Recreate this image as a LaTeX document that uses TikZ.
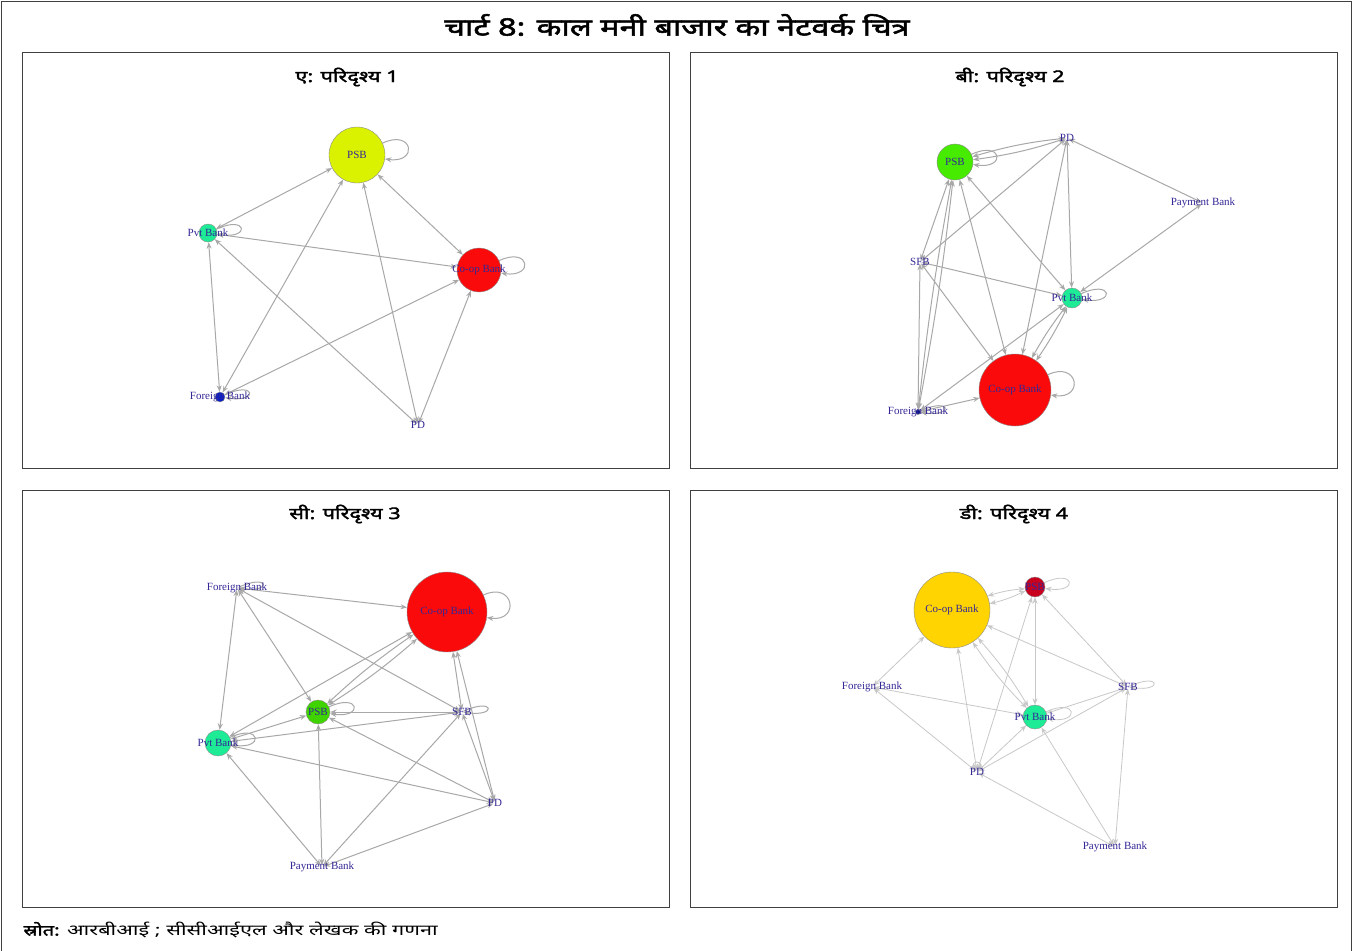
\documentclass[tikz,border=0pt]{standalone}
\usepackage{fontspec}
\setmainfont{Liberation Serif}
\newfontfamily\hindi[Script=Devanagari, FakeStretch=1.45]{Noto Sans}
\newfontfamily\hindibold[Script=Devanagari, FakeStretch=1.35, FakeBold=2.2]{Noto Sans}
\usetikzlibrary{arrows.meta}

\definecolor{labelblue}{RGB}{52,40,150}
\definecolor{edgegray}{RGB}{168,168,168}
\definecolor{paleedge}{RGB}{200,200,200}
\definecolor{limenode}{RGB}{218,242,0}
\definecolor{greennode}{RGB}{70,235,0}
\definecolor{mintnode}{RGB}{30,235,150}
\definecolor{rednode}{RGB}{250,10,10}
\definecolor{bluenode}{RGB}{10,30,200}
\definecolor{goldnode}{RGB}{255,212,0}
\definecolor{darkred}{RGB}{200,0,30}

\pgfdeclarelayer{back}
\pgfdeclarelayer{edges}
\pgfsetlayers{back,edges,main}

\tikzset{
  panel/.style={draw=black!75, line width=0.9pt},
  vtx/.style={circle, draw=black!45, line width=0.4pt, inner sep=0pt},
  dot/.style={circle, inner sep=0pt, minimum size=3pt},
  every label/.style={text=labelblue, inner sep=0pt,
    font=\fontsize{11}{11}\selectfont},
  paneltitle/.style={font=\hindibold\fontsize{16}{18}\selectfont},
  links/.style={every edge/.style={draw=edgegray, line width=1pt,
    {Stealth[length=6.5pt,width=5pt]}-{Stealth[length=6.5pt,width=5pt]}}},
  palelinks/.style={every edge/.style={draw=paleedge, line width=0.8pt,
    {Stealth[length=6.5pt,width=5pt]}-{Stealth[length=6.5pt,width=5pt]}}},
  selfloop/.style={out=25, in=-8, min distance=34pt,
    -{Stealth[length=6.5pt,width=5pt]}},
}

\begin{document}
\begin{tikzpicture}[x=1pt, y=-1pt]
  \useasboundingbox (0,0) rectangle (1353,951);
  \begin{pgfonlayer}{back}
    \fill[white] (0,0) rectangle (1353,951);
  \end{pgfonlayer}

  % frame and title
  \draw[panel] (1.5,1.5) rectangle (1351.5,960);
  \node[font=\hindibold\fontsize{24}{26}\selectfont] (title) at (677,25)
    {चार्ट 8: काल मनी बाजार का नेटवर्क चित्र};

  % panels
  \draw[panel] (22,52) rectangle (669,468);
  \draw[panel] (690,52) rectangle (1337,468);
  \draw[panel] (22,490) rectangle (669,907);
  \draw[panel] (690,490) rectangle (1337,907);
  \node[paneltitle] (titleA) at (347,77) {ए: परिदृश्य 1};
  \node[paneltitle] (titleB) at (1010,77) {बी: परिदृश्य 2};
  \node[paneltitle] (titleC) at (345,514) {सी: परिदृश्य 3};
  \node[paneltitle] (titleD) at (1014,514) {डी: परिदृश्य 4};

  % panel A
  \node[vtx, fill=limenode, minimum size=56pt, label=center:PSB] (aPSB) at (357,155) {};
  \node[vtx, fill=mintnode, minimum size=18pt, label=center:Pvt Bank] (aPvt) at (208,233) {};
  \node[vtx, fill=rednode, minimum size=44pt, label=center:Co-op Bank] (aCoop) at (479,270) {};
  \node[vtx, fill=bluenode, minimum size=10pt, label=center:Foreign Bank] (aFor) at (220,397) {};
  \node[dot, label=center:PD] (aPD) at (418,425) {};
  \begin{pgfonlayer}{edges}
    \path[links] (aPSB) edge (aPvt) (aPSB) edge (aCoop) (aPSB) edge (aPD)
      (aPSB) edge (aFor) (aPvt) edge (aCoop) (aPvt) edge (aFor)
      (aPvt) edge (aPD) (aCoop) edge (aFor) (aCoop) edge (aPD);
    \path[links] (aPSB) edge[selfloop] (aPSB) (aPvt) edge[selfloop] (aPvt)
      (aCoop) edge[selfloop] (aCoop) (aFor) edge[selfloop] (aFor);
  \end{pgfonlayer}

  % panel B
  \node[vtx, fill=greennode, minimum size=36pt, label=center:PSB] (bPSB) at (955,162) {};
  \node[dot, label=center:PD] (bPD) at (1067,138) {};
  \node[dot, label=center:Payment Bank] (bPay) at (1203,203) {};
  \node[dot, label=center:SFB] (bSFB) at (920,262) {};
  \node[vtx, fill=mintnode, minimum size=20pt, label=center:Pvt Bank] (bPvt) at (1072,298) {};
  \node[vtx, fill=rednode, minimum size=72pt, label=center:Co-op Bank] (bCoop) at (1015,390) {};
  \node[vtx, fill=bluenode!70!black, minimum size=5pt, label=center:Foreign Bank] (bFor) at (918,412) {};
  \begin{pgfonlayer}{edges}
    \path[links] (bPSB) edge[bend left=5] (bPD) (bPSB) edge[bend right=5] (bPD)
      (bPSB) edge (bSFB) (bPSB) edge[bend left=2] (bFor) (bPSB) edge[bend right=2] (bFor)
      (bPSB) edge (bCoop) (bPSB) edge (bPvt)
      (bPD) edge (bSFB) (bPD) edge (bPvt) (bPD) edge (bCoop) (bPD) edge (bPay)
      (bPay) edge (bPvt) (bSFB) edge (bPvt) (bSFB) edge (bFor) (bSFB) edge (bCoop)
      (bPvt) edge[bend left=4] (bCoop) (bPvt) edge[bend right=4] (bCoop)
      (bPvt) edge (bFor) (bCoop) edge (bFor);
    \path[links] (bPSB) edge[selfloop] (bPSB) (bPvt) edge[selfloop] (bPvt)
      (bCoop) edge[selfloop] (bCoop) (bFor) edge[selfloop] (bFor);
  \end{pgfonlayer}

  % panel C
  \node[dot, label=center:Foreign Bank] (cFor) at (237,588) {};
  \node[vtx, fill=rednode, minimum size=80pt, label=center:Co-op Bank] (cCoop) at (447,612) {};
  \node[vtx, fill=greennode!90!black, minimum size=24pt, label=center:PSB] (cPSB) at (318,712) {};
  \node[dot, label=center:SFB] (cSFB) at (462,712) {};
  \node[vtx, fill=mintnode, minimum size=26pt, label=center:Pvt Bank] (cPvt) at (218,743) {};
  \node[dot, label=center:PD] (cPD) at (495,803) {};
  \node[dot, label=center:Payment Bank] (cPay) at (322,867) {};
  \begin{pgfonlayer}{edges}
    \path[links] (cFor) edge (cCoop) (cFor) edge (cPvt) (cFor) edge (cPSB) (cFor) edge (cSFB)
      (cCoop) edge[bend left=4] (cPSB) (cCoop) edge[bend right=4] (cPSB)
      (cCoop) edge (cPvt) (cCoop) edge (cSFB) (cCoop) edge (cPD)
      (cPSB) edge (cSFB) (cPSB) edge (cPvt) (cSFB) edge (cPvt)
      (cPSB) edge (cPD) (cPvt) edge (cPD) (cSFB) edge (cPD)
      (cPay) edge (cPvt) (cPay) edge (cPSB) (cPay) edge (cSFB) (cPay) edge (cPD);
    \path[links] (cCoop) edge[selfloop] (cCoop) (cPSB) edge[selfloop] (cPSB)
      (cSFB) edge[selfloop] (cSFB) (cPvt) edge[selfloop] (cPvt)
      (cFor) edge[selfloop] (cFor);
  \end{pgfonlayer}

  % panel D
  \node[vtx, fill=goldnode, minimum size=76pt, label=center:Co-op Bank] (dCoop) at (952,610) {};
  \node[vtx, fill=darkred, minimum size=20pt, label=center:PSB] (dPSB) at (1035,587) {};
  \node[dot, label=center:Foreign Bank] (dFor) at (872,687) {};
  \node[dot, label=center:SFB] (dSFB) at (1128,687) {};
  \node[vtx, fill=mintnode, minimum size=24pt, label=center:Pvt Bank] (dPvt) at (1035,717) {};
  \node[dot, label=center:PD] (dPD) at (977,772) {};
  \node[dot, label=center:Payment Bank] (dPay) at (1115,847) {};
  \begin{pgfonlayer}{edges}
    \path[palelinks] (dCoop) edge[bend left=6] (dPSB) (dCoop) edge[bend right=6] (dPSB)
      (dCoop) edge (dFor) (dCoop) edge (dPD) (dCoop) edge[bend left=5] (dPvt)
      (dCoop) edge[bend right=5] (dPvt) (dCoop) edge (dSFB)
      (dPSB) edge (dPD) (dPSB) edge (dPvt) (dPSB) edge (dSFB)
      (dFor) edge (dPvt) (dFor) edge (dPD) (dSFB) edge (dPvt)
      (dPD) edge (dPvt) (dPD) edge (dSFB)
      (dPay) edge (dPvt) (dPay) edge (dSFB) (dPay) edge (dPD);
    \path[palelinks] (dPSB) edge[selfloop] (dPSB) (dSFB) edge[selfloop] (dSFB)
      (dPvt) edge[selfloop] (dPvt)
      (dPD) edge[out=120, in=60, min distance=12pt] (dPD);
  \end{pgfonlayer}

  % source
  \node[anchor=west, font=\hindi\fontsize{15}{17}\selectfont] (source) at (20,930)
    {{\hindibold स्रोत:} आरबीआई ; सीसीआईएल और लेखक की गणना};
\end{tikzpicture}
\end{document}
